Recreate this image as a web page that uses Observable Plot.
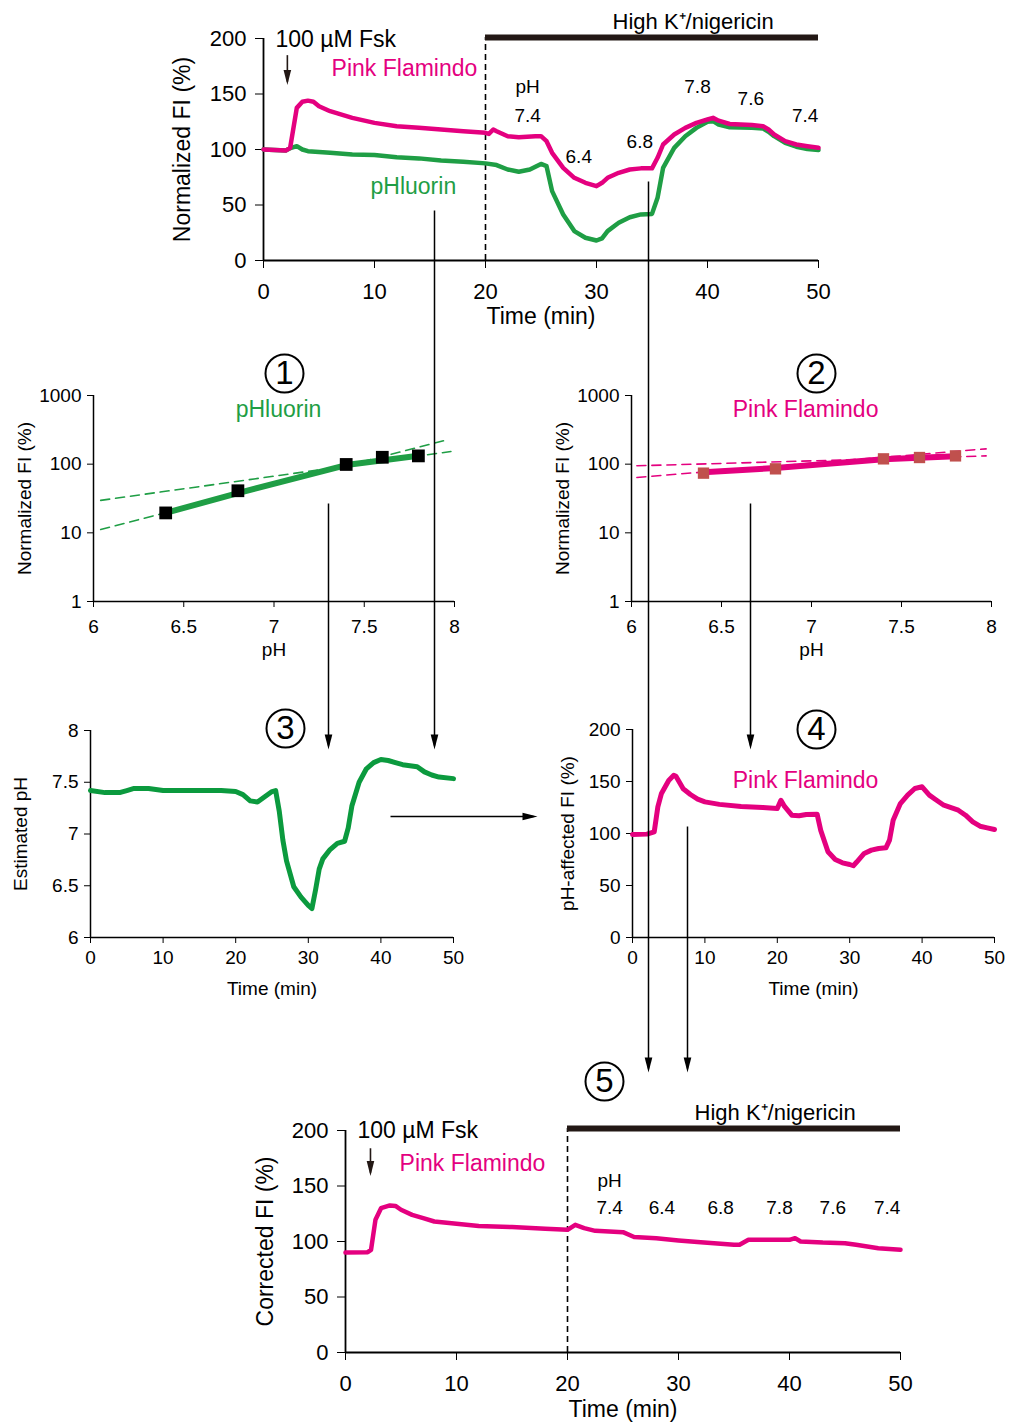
<!DOCTYPE html>
<html><head><meta charset="utf-8">
<script src="https://cdn.jsdelivr.net/npm/d3@7"></script>
<script src="https://cdn.jsdelivr.net/npm/@observablehq/plot@0.6"></script>
<style>
body{margin:0;background:#fff;}
#fig{position:relative;width:1010px;height:1423px;overflow:hidden;background:#fff;}
</style></head><body><div id="fig"></div>
<script>
// ---------- DATA ----------
// Panel top: normalized FI time courses
const topPinkTime = [0,2,2.4,2.7,3,3.5,4,4.5,5,6,8,10,12,14,16,18,20,20.3,20.7,21,22,23,24.5,25,25.5,26,27,28,29,30,30.5,31,32,33,34,35,35.5,36,37,38,39,40,40.5,41,42,44,45,45.5,46,47,48,49,50];
const topPinkFI   = [100,99,101.5,119.5,137.5,143,144,143,139,134.5,128.5,124,121,119.5,118,116.5,115,114,118,116.5,112,111,112,112,107.5,97,83.5,74.5,70,67,70,74.5,79,82,83,83,92.5,104.5,113.5,119.5,124,127,128.5,126,123,122,121,118,113.5,107.5,104.5,103,101.5];
const topGreenTime = [0,2,2.5,3,3.5,4,6,8,10,12,14,16,18,20,21,22,23,24,25,25.5,26,27,28,29,30,30.5,31,32,33,34,35,35.5,36,37,38,39,40,40.5,41,42,44,45,45.5,46,47,48,49,50];
const topGreenFI   = [100,99,101.5,103,100,98.5,97,95.5,95,93,92,90,89,87.5,86,82,80,82,87,85,62.5,41.5,26.5,20.5,18,20,26.5,34,39,41.5,42,56.5,83.5,101.5,112,119.5,125,125.5,122.5,120,119.5,119,116,112,106,102.5,100.5,99.5];

// Calibration (panels 1 and 2)
const calibPH     = [6.4, 6.8, 7.4, 7.6, 7.8];
const pHluorinFI  = [19.5, 41, 99, 126, 132];
const flamindoFI  = [74, 85.5, 119.5, 125, 132];
const pHluorinFitPH = [6.4, 6.8, 7.4, 7.8];
const pHluorinFitFI = [19.5, 38, 97, 133];
const pHluorinDashSteep   = [[6.04, 11.2], [7.97, 230]];
const pHluorinDashShallow = [[6.04, 29.7], [7.98, 153]];
const flamindoFitPH = [6.4, 6.8, 7.4, 7.8];
const flamindoFitFI = [76, 88, 118, 130];
const flamindoDashSteep   = [[6.03, 64], [7.97, 167]];
const flamindoDashShallow = [[6.03, 94.6], [7.97, 132]];

// Panel 3: estimated pH
const estTime = [0,2,4,5,6,8,10,12,15,18,20,21,22,23,24,25,25.5,26,26.5,27,28,29,30,30.5,31,31.5,32,33,34,35,35.5,36,37,38,39,40,41,42,43,45,46,47,48,50];
const estPH   = [7.42,7.40,7.40,7.42,7.44,7.44,7.42,7.42,7.42,7.42,7.41,7.38,7.32,7.31,7.36,7.41,7.42,7.22,6.94,6.74,6.49,6.39,6.31,6.28,6.46,6.66,6.76,6.85,6.91,6.93,7.06,7.27,7.50,7.63,7.69,7.72,7.71,7.69,7.67,7.65,7.60,7.57,7.55,7.535];

// Panel 4: pH-affected FI
const affTime = [0,2,3,3.5,4,5,5.7,6,7,8,9,10,12,15,18,20,20.5,21,22,23,24,25.5,26,27,28,29,30,30.5,31,32,33,34,35,35.5,36,37,38,39,40,41,42,43,45,46,47,48,49,50];
const affFI   = [99,99.4,101.6,125.6,138.5,151,156,155,143,137.5,133,130.4,128,126,125,124,132,126,117.6,117,118.3,118.6,103,82.4,75,71.8,70.2,69,72.8,80.8,84,85.6,86.2,93.6,112.8,128.8,136.9,143.3,144.9,136.9,132,127.2,122.4,117.6,111.2,107,105.4,103.8];

// Panel 5: corrected FI
const corrTime = [0,2,2.3,2.7,3.2,4,4.5,5,6,7,8,10,12,15,18,20,20.7,21.5,22.5,25,26,28,30,32,35,35.5,36.3,38,40,40.5,41,43,45,46,48,50];
const corrFI   = [90,90.4,92.5,119.6,130,132.5,132,128.6,124,121,118,116,114,113,111.4,110.5,115,112,109.6,108.4,104,103,101,99.4,97,97,101.5,101.5,101.5,103,100,99,98.5,97,94,92.5];

// Tick values and labels
const timeTicks = [0,10,20,30,40,50];
const fiTicks = [0,50,100,150,200];
const pHTicks = [6,6.5,7,7.5,8];
const logTicks = [1,10,100,1000];
const pHStepLabels = ["7.4","6.4","6.8","7.8","7.6","7.4"];

// ---------- STYLE / LAYOUT ----------
const FONT = "'Liberation Sans', Arial, Helvetica, sans-serif";
const PINK = "#e4007f", GREEN = "#1f9e45", GREEN3 = "#0b9a3e", BAR = "#231815", SQ2 = "#c0504d";
const fig = document.getElementById("fig");
function place(el, left, top){ el.style.position="absolute"; el.style.left=left+"px"; el.style.top=top+"px"; fig.appendChild(el); }
const zipTV = (t, v) => t.map((x, i) => ({x, y: v[i]}));
const pairs = a => a.map(([x, y]) => ({x, y}));
const st = fs => ({fontFamily: FONT, fontSize: fs + "px", background: "transparent", overflow: "visible", color: "black"});
const yTitle = (txt, dx, fs) => Plot.text([txt], {frameAnchor:"left", textAnchor:"middle", dx, rotate:-90, fontSize:fs});
const xTitle = (txt, dy, fs) => Plot.text([txt], {frameAnchor:"bottom", textAnchor:"middle", dy, fontSize:fs});

// arrow head symbols (tip at origin)
const triDown = {draw(c){ c.moveTo(-3.8,-15); c.lineTo(3.8,-15); c.lineTo(0,0); c.closePath(); }};
const triRight = {draw(c){ c.moveTo(-15,-3.8); c.lineTo(-15,3.8); c.lineTo(0,0); c.closePath(); }};

// annotation positions (data coords of the time-course panels)
const topLabelPos = {fsk:[1.08,199], fskArrow:[2.15,185,158], pink:[12.7,173], green:[13.5,66.7], highK:[38.7,215.3], bar:201};
const topPHPos = [[23.8,130],[28.4,93],[33.9,107],[39.1,156],[43.9,146],[48.8,130]];
const botLabelPos = {fsk:[1.08,200], fskArrow:[2.25,184,159], pink:[11.44,170.3], highK:[38.7,216], bar:201.8};
const botPHPos = [[23.8,130],[28.5,130],[33.8,130],[39.1,130],[43.9,130],[48.8,130]];

function timeCourse(cfg){
  const {series, pos, phPos, ylab, ylabDx, xlabDy, pH} = cfg;
  return Plot.plot({
    width: cfg.width, height: cfg.height,
    marginLeft: cfg.ml, marginRight: cfg.mr, marginTop: cfg.mt, marginBottom: cfg.mb,
    x: {domain:[0,50], ticks: timeTicks, tickSize:8, tickPadding:15, label:null},
    y: {domain:[0,200], ticks: fiTicks, tickSize:8, tickPadding:9, label:null},
    style: st(22),
    marks: [
      Plot.ruleY([0], {strokeWidth:1.8}),
      Plot.ruleX([0], {strokeWidth:1.8}),
      Plot.ruleX([20], {y1:0, y2:pos.bar, strokeDasharray:"6,4", strokeWidth:1.6}),
      Plot.ruleY([pos.bar], {x1:20, x2:50, stroke:BAR, strokeWidth:6}),
      ...series.map(s => Plot.line(s.data, {x:"x", y:"y", stroke:s.color, strokeWidth:4.5, strokeLinejoin:"round"})),
      Plot.text(["100 µM Fsk"], {x:pos.fsk[0], y:pos.fsk[1], textAnchor:"start", fontSize:23}),
      Plot.link([0], {x1:pos.fskArrow[0], x2:pos.fskArrow[0], y1:pos.fskArrow[1], y2:pos.fskArrow[2]+3, stroke:BAR, strokeWidth:1.6}),
      Plot.dot([0], {x:pos.fskArrow[0], y:pos.fskArrow[2], symbol:triDown, fill:BAR, stroke:"none"}),
      Plot.text(["Pink Flamindo"], {x:pos.pink[0], y:pos.pink[1], fill:PINK, fontSize:23}),
      ...(pos.green ? [Plot.text(["pHluorin"], {x:pos.green[0], y:pos.green[1], fill:GREEN, fontSize:23})] : []),
      Plot.text(["High K⁺/nigericin"], {x:pos.highK[0], y:pos.highK[1], fontSize:22}),
      Plot.text(["pH"], {x:pH[0], y:pH[1], fontSize:19}),
      Plot.text(pHStepLabels, {x:(d,i)=>phPos[i][0], y:(d,i)=>phPos[i][1], fontSize:19}),
      yTitle(ylab, ylabDx, 23),
      xTitle("Time (min)", xlabDy, 23)
    ]
  });
}

// ---------- PANEL TOP ----------
place(timeCourse({
  width:700, height:340, ml:103, mr:42, mt:38, mb:80,
  series:[{data:zipTV(topGreenTime, topGreenFI), color:GREEN},{data:zipTV(topPinkTime, topPinkFI), color:PINK}],
  pos: topLabelPos, phPos: topPHPos, pH:[23.8,156],
  ylab:"Normalized FI (%)", ylabDx:-81, xlabDy:63
}), 160, 0);

// ---------- CALIBRATION PANELS ----------
function calib(cfg){
  return Plot.plot({
    width: cfg.width, height: 320, marginLeft: cfg.ml, marginRight: cfg.mr, marginTop:45, marginBottom:69,
    x: {domain:[6,8], ticks:pHTicks, tickSize:6, tickPadding:12, label:null, tickFormat:d=>String(d)},
    y: {type:"log", domain:[1,1000], ticks:logTicks, tickSize:6, tickPadding:6, label:null, tickFormat:d=>String(d)},
    style: st(19),
    marks: [
      Plot.ruleX([6], {strokeWidth:1.5}),
      Plot.ruleY([1], {strokeWidth:1.5}),
      Plot.line(pairs(cfg.dashA), {x:"x", y:"y", stroke:cfg.color, strokeWidth:1.6, strokeDasharray:"9,6"}),
      Plot.line(pairs(cfg.dashB), {x:"x", y:"y", stroke:cfg.color, strokeWidth:1.6, strokeDasharray:"9,6"}),
      Plot.line(zipTV(cfg.fitX, cfg.fitY), {x:"x", y:"y", stroke:cfg.color, strokeWidth:6}),
      Plot.dot(zipTV(calibPH, cfg.values), {x:"x", y:"y", symbol:"square", r:cfg.r, fill:cfg.sq, stroke:"none"}),
      Plot.text([cfg.name], {x:cfg.nameX, y:625, fill:cfg.color, fontSize:23}),
      yTitle("Normalized FI (%)", -69, 19),
      xTitle("pH", 54, 19)
    ]
  });
}
place(calib({width:480, ml:93, mr:26, color:GREEN, sq:"black", r:7.2, values:pHluorinFI,
  fitX:pHluorinFitPH, fitY:pHluorinFitFI, dashA:pHluorinDashSteep, dashB:pHluorinDashShallow, name:"pHluorin", nameX:7.025}), 0, 350);
place(calib({width:470, ml:91, mr:19, color:PINK, sq:SQ2, r:6.4, values:flamindoFI,
  fitX:flamindoFitPH, fitY:flamindoFitFI, dashA:flamindoDashSteep, dashB:flamindoDashShallow, name:"Pink Flamindo", nameX:6.967}), 540, 350);

// ---------- PANEL 3 ----------
place(Plot.plot({
  width:540, height:320, marginLeft:90, marginRight:87, marginTop:30, marginBottom:83,
  x:{domain:[0,50], ticks:timeTicks, tickSize:6, tickPadding:7, label:null},
  y:{domain:[6,8], ticks:pHTicks, tickSize:6, tickPadding:6, label:null, tickFormat:d=>String(d)},
  style: st(19),
  marks:[
    Plot.ruleX([0], {strokeWidth:1.5}), Plot.ruleY([6], {strokeWidth:1.5}),
    Plot.line(zipTV(estTime, estPH), {x:"x", y:"y", stroke:GREEN3, strokeWidth:5, strokeLinejoin:"round"}),
    yTitle("Estimated pH", -70, 19),
    xTitle("Time (min)", 57, 19)
  ]
}), 0, 700);

// ---------- PANEL 4 ----------
place(Plot.plot({
  width:470, height:320, marginLeft:92, marginRight:16, marginTop:29, marginBottom:83,
  x:{domain:[0,50], ticks:timeTicks, tickSize:6, tickPadding:7, label:null},
  y:{domain:[0,200], ticks:fiTicks, tickSize:6, tickPadding:6, label:null},
  style: st(19),
  marks:[
    Plot.ruleX([0], {strokeWidth:1.5}), Plot.ruleY([0], {strokeWidth:1.5}),
    Plot.line(zipTV(affTime, affFI), {x:"x", y:"y", stroke:PINK, strokeWidth:5, strokeLinejoin:"round"}),
    Plot.text(["Pink Flamindo"], {x:23.9, y:151, fill:PINK, fontSize:23}),
    yTitle("pH-affected FI (%)", -65, 19),
    xTitle("Time (min)", 57, 19)
  ]
}), 540, 700);

// ---------- PANEL 5 ----------
place(timeCourse({
  width:700, height:363, ml:105, mr:40, mt:70, mb:71,
  series:[{data:zipTV(corrTime, corrFI), color:PINK}],
  pos: botLabelPos, phPos: botPHPos, pH:[23.8,155],
  ylab:"Corrected FI (%)", ylabDx:-80, xlabDy:64
}), 240, 1060);

// ---------- OVERLAY: flow arrows and step numbers (page pixel layout) ----------
const flowArrowsDown = [
  {x1:434, y1:210, x2:434, y2:749},
  {x1:328, y1:503, x2:328, y2:749},
  {x1:648, y1:181, x2:648, y2:1072},
  {x1:750, y1:503, x2:750, y2:749},
  {x1:687, y1:826, x2:687, y2:1072}
];
const flowArrowsRight = [{x1:390, y1:816, x2:537, y2:816}];
const stepBadges = [
  {n:"1", x:284, y:373}, {n:"2", x:816, y:373}, {n:"3", x:285, y:728},
  {n:"4", x:816, y:729}, {n:"5", x:604, y:1081}
];
place(Plot.plot({
  width:1010, height:1423, margin:0, marginLeft:0, marginRight:0, marginTop:0, marginBottom:0,
  x:{domain:[0,1010], range:[0,1010], axis:null},
  y:{domain:[0,1423], range:[0,1423], axis:null},
  style:{background:"transparent", fontFamily:FONT, overflow:"visible"},
  marks:[
    Plot.link(flowArrowsDown, {x1:"x1", y1:"y1", x2:"x2", y2:d=>d.y2-4, stroke:"black", strokeWidth:1.5}),
    Plot.dot(flowArrowsDown, {x:"x2", y:"y2", symbol:triDown, fill:"black", stroke:"none"}),
    Plot.link(flowArrowsRight, {x1:"x1", y1:"y1", x2:d=>d.x2-4, y2:"y2", stroke:"black", strokeWidth:1.5}),
    Plot.dot(flowArrowsRight, {x:"x2", y:"y2", symbol:triRight, fill:"black", stroke:"none"}),
    Plot.dot(stepBadges, {x:"x", y:"y", r:19, stroke:"black", strokeWidth:2, fill:"none"}),
    Plot.text(stepBadges, {x:"x", y:"y", text:"n", fontSize:33})
  ]
}), 0, 0);
</script></body></html>
